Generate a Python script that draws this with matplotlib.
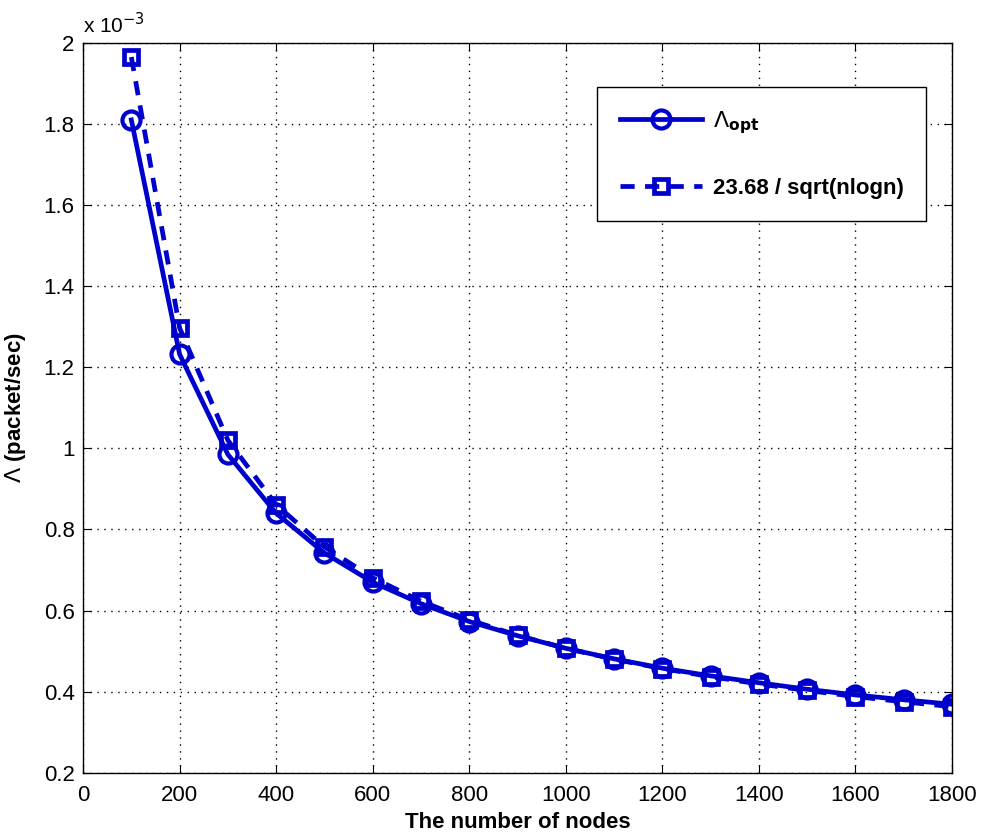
import numpy as np
import matplotlib.pyplot as plt
from matplotlib.ticker import FuncFormatter

plt.rcParams['font.family'] = ['Liberation Sans', 'DejaVu Sans']
plt.rcParams['mathtext.fontset'] = 'dejavusans'

# -------------------------
# Data (y values in units of 1e-3)
# -------------------------
nodes = [100, 200, 300, 400, 500, 600, 700, 800, 900,
         1000, 1100, 1200, 1300, 1400, 1500, 1600, 1700, 1800]
lam_opt = [1.810, 1.232, 0.985, 0.840, 0.742, 0.670, 0.617, 0.573, 0.538,
           0.507, 0.481, 0.458, 0.439, 0.422, 0.406, 0.392, 0.380, 0.369]
lam_fit = [1.965, 1.297, 1.020, 0.861, 0.757, 0.681, 0.623, 0.577, 0.539,
           0.507, 0.480, 0.457, 0.437, 0.419, 0.403, 0.388, 0.375, 0.363]

label_opt = r'$\Lambda_{\mathbf{opt}}$'
label_fit = '23.68 / sqrt(nlogn)'

col = '#0000cc'

fig = plt.figure(figsize=(9.83, 8.4), dpi=100)
ax = fig.add_axes([0.0845, 0.080, 0.884, 0.869])

ax.plot(nodes, lam_opt, '-', color=col, lw=3.4, marker='o', ms=13,
        mfc='none', mew=3.0, label=label_opt)
ax.plot(nodes, lam_fit, '--', color=col, lw=3.4, marker='s', ms=10.5,
        mfc='none', mew=3.4, dashes=(3, 2.2), label=label_fit)

ax.set_xlim(0, 1800)
ax.set_ylim(0.2, 2.0)
ax.set_xticks(np.arange(0, 1801, 200))
ax.set_yticks(np.arange(0.2, 2.01, 0.2))
ax.yaxis.set_major_formatter(FuncFormatter(lambda v, p: '%g' % round(v, 1)))

ax.grid(True, color='k', ls=(0, (1, 4)), lw=1.0)
ax.tick_params(direction='in', top=True, right=True, labelsize=16, length=6)
ax.tick_params(axis='x', pad=9)
ax.tick_params(axis='y', pad=6)
for s in ax.spines.values():
    s.set_linewidth(1.0)

ax.set_xlabel('The number of nodes', fontsize=16, fontweight='bold', labelpad=4)
ax.set_ylabel(r'$\Lambda$ (packet/sec)', fontsize=16, fontweight='bold', labelpad=11)
ax.text(0.0, 1.008, r'x 10$^{-3}$', transform=ax.transAxes, fontsize=15,
        ha='left', va='bottom')

leg = ax.legend(loc='upper right', bbox_to_anchor=(0.983, 0.955), fancybox=False,
                framealpha=1, edgecolor='k', borderpad=1.0, labelspacing=1.9,
                handlelength=3.7, handletextpad=0.5,
                prop={'size': 16, 'weight': 'bold'})
leg.get_frame().set_linewidth(1.0)

plt.savefig('out.png', dpi=100)
